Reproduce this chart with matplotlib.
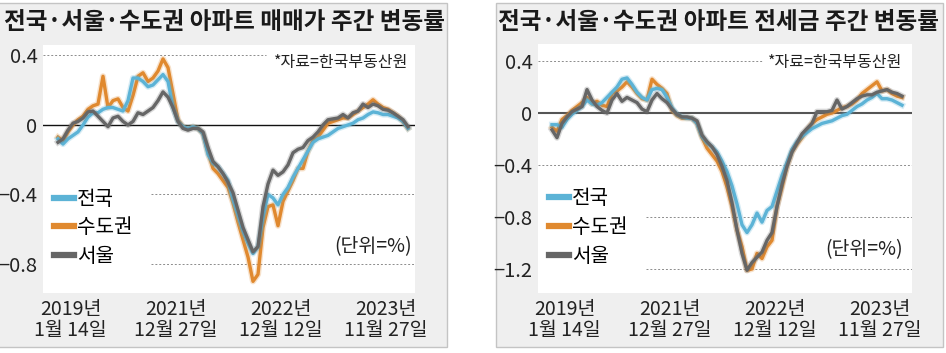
import matplotlib
matplotlib.use('Agg')
import matplotlib.pyplot as plt
import matplotlib.patheffects as pe
from matplotlib.patches import Rectangle
import numpy as np

plt.rcParams['font.family'] = ['Noto Sans CJK KR', 'DejaVu Sans']
num_font = ['Liberation Sans Narrow', 'Noto Sans CJK KR', 'DejaVu Sans']

# ---- data (weekly change, %) ----
labels = ['전국', '수도권', '서울']

sale_nation = [-0.08, -0.11, -0.08, -0.06, -0.04, 0.0, 0.045, 0.07, 0.07, 0.09,
               0.10, 0.10, 0.09, 0.08, 0.14, 0.27, 0.27, 0.25, 0.22, 0.23,
               0.26, 0.29, 0.25, 0.10, 0.02, -0.01, -0.02, -0.01, -0.02, -0.05,
               -0.17, -0.22, -0.24, -0.28, -0.32, -0.43, -0.52, -0.61, -0.68, -0.74,
               -0.70, -0.53, -0.40, -0.42, -0.46, -0.40, -0.36, -0.30, -0.25, -0.20,
               -0.15, -0.10, -0.08, -0.07, -0.06, -0.04, -0.02, -0.01, 0.0, 0.01,
               0.03, 0.04, 0.06, 0.075, 0.07, 0.06, 0.06, 0.05, 0.04, 0.02, -0.02]
sale_capital = [-0.07, -0.09, -0.04, 0.0, 0.03, 0.05, 0.09, 0.11, 0.12, 0.28,
                0.10, 0.14, 0.15, 0.10, 0.08, 0.17, 0.28, 0.30, 0.25, 0.27,
                0.31, 0.38, 0.33, 0.18, 0.03, -0.01, -0.02, -0.01, -0.02, -0.05,
                -0.16, -0.25, -0.28, -0.32, -0.36, -0.45, -0.56, -0.66, -0.76, -0.90,
                -0.86, -0.59, -0.47, -0.46, -0.58, -0.44, -0.38, -0.32, -0.25, -0.25,
                -0.15, -0.09, -0.07, -0.03, 0.01, 0.02, 0.03, 0.04, 0.04, 0.06,
                0.08, 0.10, 0.12, 0.145, 0.12, 0.10, 0.09, 0.07, 0.05, 0.02, -0.02]
sale_seoul = [-0.10, -0.08, -0.03, 0.01, 0.02, 0.04, 0.075, 0.08, 0.05, 0.02,
              -0.01, 0.04, 0.05, 0.02, 0.0, 0.02, 0.07, 0.06, 0.08, 0.10,
              0.14, 0.19, 0.16, 0.10, 0.02, -0.02, -0.03, -0.02, -0.02, -0.04,
              -0.13, -0.21, -0.24, -0.28, -0.33, -0.39, -0.49, -0.59, -0.66, -0.73,
              -0.70, -0.47, -0.34, -0.26, -0.29, -0.27, -0.23, -0.16, -0.14, -0.13,
              -0.09, -0.07, -0.04, 0.0, 0.03, 0.035, 0.04, 0.06, 0.04, 0.07,
              0.08, 0.12, 0.10, 0.12, 0.11, 0.09, 0.085, 0.07, 0.05, 0.03, -0.01]

rent_nation = [-0.09, -0.09, -0.11, -0.05, -0.01, 0.02, 0.05, 0.10, 0.07, 0.06,
               0.08, 0.12, 0.16, 0.20, 0.26, 0.27, 0.22, 0.16, 0.12, 0.10,
               0.18, 0.19, 0.18, 0.12, 0.04, -0.01, -0.03, -0.04, -0.04, -0.08,
               -0.18, -0.23, -0.26, -0.30, -0.37, -0.45, -0.56, -0.70, -0.86, -0.92,
               -0.86, -0.77, -0.84, -0.75, -0.72, -0.60, -0.48, -0.38, -0.28, -0.22,
               -0.18, -0.15, -0.12, -0.10, -0.08, -0.07, -0.06, -0.04, -0.02, -0.01,
               0.02, 0.05, 0.07, 0.10, 0.12, 0.15, 0.11, 0.11, 0.10, 0.08, 0.06]
rent_capital = [-0.11, -0.14, -0.05, -0.02, 0.02, 0.05, 0.08, 0.12, 0.07, 0.09,
                0.06, 0.05, 0.15, 0.17, 0.20, 0.24, 0.20, 0.15, 0.11, 0.10,
                0.26, 0.22, 0.19, 0.15, 0.02, -0.02, -0.04, -0.04, -0.04, -0.08,
                -0.19, -0.27, -0.32, -0.37, -0.45, -0.57, -0.72, -0.90, -1.03, -1.21,
                -1.20, -1.08, -1.12, -1.03, -0.98, -0.72, -0.57, -0.41, -0.30, -0.24,
                -0.19, -0.13, -0.08, -0.05, -0.03, -0.01, 0.0, 0.02, 0.04, 0.05,
                0.07, 0.10, 0.15, 0.18, 0.21, 0.24, 0.17, 0.18, 0.15, 0.13, 0.12]
rent_seoul = [-0.13, -0.19, -0.08, -0.03, 0.01, 0.03, 0.05, 0.18, 0.10, 0.05,
              0.02, 0.0, 0.10, 0.15, 0.09, 0.12, 0.10, 0.08, 0.03, 0.01,
              0.10, 0.15, 0.11, 0.08, 0.03, -0.01, -0.03, -0.03, -0.04, -0.06,
              -0.17, -0.22, -0.26, -0.32, -0.41, -0.52, -0.69, -0.90, -1.08, -1.21,
              -1.15, -1.11, -1.07, -0.98, -0.92, -0.72, -0.55, -0.41, -0.30, -0.23,
              -0.16, -0.12, -0.08, 0.01, 0.01, 0.01, 0.02, 0.10, 0.03, 0.05,
              0.08, 0.11, 0.13, 0.14, 0.14, 0.16, 0.17, 0.18, 0.16, 0.15, 0.13]

tick_pos = [2.5, 23.5, 44.5, 65.5]
tick_labels = ['2019년\n1월 14일', '2021년\n12월 27일', '2022년\n12월 12일', '2023년\n11월 27일']

colors = ['#5cb3d6', '#e0892f', '#666666']
zorders = [3, 2, 4]

W, H = 946, 353
fig = plt.figure(figsize=(W / 100, H / 100), dpi=100, facecolor='white')

# gray panel boxes
for x0, x1 in [(-2, 447), (496, 943)]:
    fig.patches.append(Rectangle((x0 / W, 1 - 347 / H), (x1 - x0) / W, 344 / H,
                                 transform=fig.transFigure, facecolor='#efefef',
                                 edgecolor='#c4c4c4', lw=1.0, zorder=-10))


def panel(rect, series, yticks, ylim, xlim, zero_color, zero_lw, grids, title, tx, title_x):
    ax = fig.add_axes([rect[0] / W, 1 - rect[3] / H, (rect[2] - rect[0]) / W, (rect[3] - rect[1]) / H])
    ax.set_facecolor('white')
    for s in ax.spines.values():
        s.set_visible(False)

    for vals, lab, c, z in zip(series, labels, colors, zorders):
        x = np.arange(len(vals))
        ax.plot(x, vals, color=c, lw=2.4, label=lab, zorder=z, solid_joinstyle='round',
                path_effects=[pe.Stroke(linewidth=4.4, foreground=c, alpha=0.25), pe.Normal()])

    ax.axhline(0, color=zero_color, lw=zero_lw, zorder=1)
    for yv, a, b in grids:
        ax.axhline(yv, xmin=a, xmax=b, color='#8c8c8c', lw=0.7, ls=(0, (2, 2)), zorder=1)

    ax.set_xlim(*xlim)
    ax.set_ylim(*ylim)
    ax.set_yticks(yticks)
    ax.set_yticklabels(['0' if v == 0 else ('%.1f' % v).replace('-', '\u2212') for v in yticks],
                       family=num_font, fontsize=14.5, color='#222222')
    ax.set_xticks(tick_pos)
    ax.set_xticklabels(tick_labels, family=num_font, fontsize=14, color='#222222', linespacing=1.0)
    ax.tick_params(length=0)
    ax.tick_params(axis='y', pad=4)
    ax.tick_params(axis='x', pad=4)

    leg = ax.legend(loc='upper left', bbox_to_anchor=(0.03, 0.42), frameon=False, fontsize=14.5,
                    handlelength=1.0, handletextpad=0.12, labelspacing=0.38, borderpad=0,
                    borderaxespad=0)
    for h in leg.get_lines():
        h.set_linewidth(4.5)
        h.set_path_effects([])

    ax.text(tx[0], tx[1], '*자료=한국부동산원', transform=ax.transAxes, ha='right', va='center',
            fontsize=11.5, color='#222222')
    ax.text(tx[2], tx[3], '(단위=%)', transform=ax.transAxes, ha='right', va='center',
            fontsize=14, color='#222222')

    fig.text(title_x / W, 1 - 22 / H, title, ha='center', va='center', fontsize=17,
             fontweight='bold', color='#1a1a1a')
    return ax


panel((43, 45, 415, 293), [sale_nation, sale_capital, sale_seoul],
      [0.4, 0, -0.4, -0.8], (-0.967, 0.46), (-3, 71.4), '#111111', 1.0,
      [(0.4, 0, 0.6), (-0.4, 0.29, 1), (-0.8, 0.29, 1)],
      '전국·서울·수도권 아파트 매매가 주간 변동률', (0.981, 0.931, 0.992, 0.185), 224)

panel((538, 44, 912, 293), [rent_nation, rent_capital, rent_seoul],
      [0.4, 0, -0.4, -0.8, -1.2], (-1.385, 0.531), (-2.8, 72), '#555555', 1.5,
      [(0.4, 0, 0.6), (-0.4, 0, 1), (-0.8, 0.29, 1), (-1.2, 0.29, 1)],
      '전국·서울·수도권 아파트 전세금 주간 변동률', (0.973, 0.924, 0.976, 0.173), 719)

fig.savefig('out.png', dpi=100, facecolor='white')
